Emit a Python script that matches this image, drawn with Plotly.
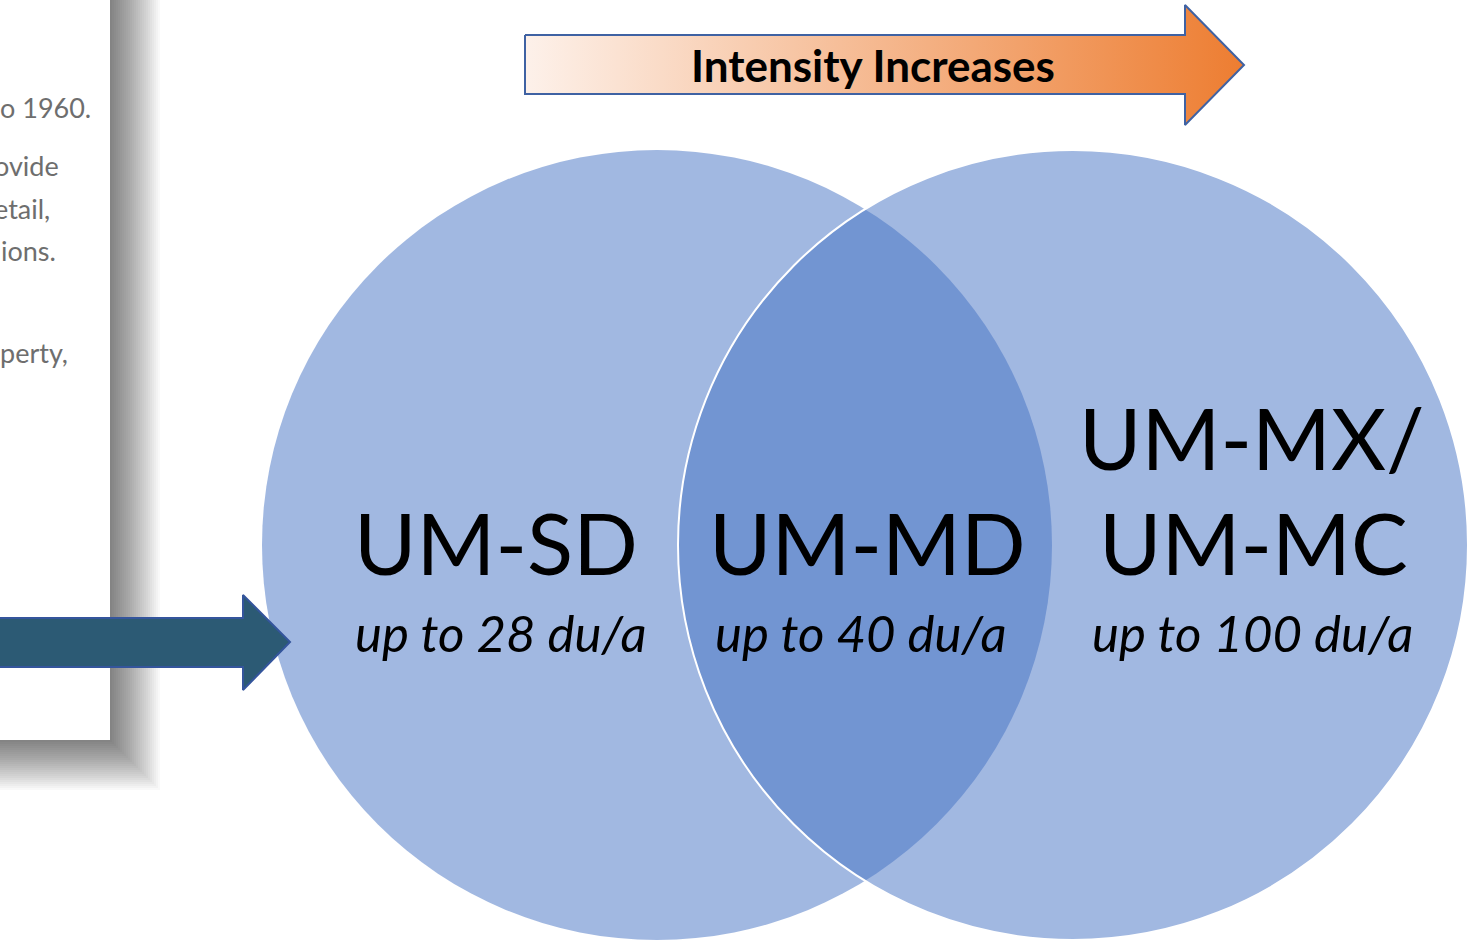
import plotly.graph_objects as go

W, H = 1469, 941

# ---- data (labels) ----
zone_names = ["UM-SD", "UM-MD", "UM-MX/", "UM-MC"]
zone_x = [496, 867, 1252, 1253]
zone_y = [542, 542, 437, 542]
density_labels = ["up to 28 du/a", "up to 40 du/a", "up to 100 du/a"]
density_x = [501, 861, 1252]
density_y = [632, 632, 632]
arrow_title = "Intensity Increases"
page_fragments = ["o 1960.", "ovide", "etail,", "ions.", "perty,"]
page_frag_right = [93, 61, 52, 58, 70]
page_frag_y = [107, 165, 208, 250, 352]

# circles: (cx, cy, r)
circles = [(657, 545, 395), (1073, 545, 395)]

fig = go.Figure()
shapes = []

# page shadow
page_right, page_bottom = 110, 740
n = 26
for i in range(n):
    shapes.append(dict(type="rect", xref="x", yref="y", layer="below",
                       x0=-30, y0=-30, x1=page_right + 2 * i, y1=page_bottom + 2 * i,
                       fillcolor="rgba(0,0,0,0.022)", line=dict(width=0)))
# page
shapes.append(dict(type="rect", xref="x", yref="y", layer="below",
                   x0=-30, y0=-30, x1=page_right, y1=page_bottom,
                   fillcolor="white", line=dict(width=0)))

# circles
cx, cy, r = circles[0]
shapes.append(dict(type="circle", xref="x", yref="y", layer="below",
                   x0=cx - r, y0=cy - r, x1=cx + r, y1=cy + r,
                   fillcolor="rgba(68,114,196,0.5)", line=dict(width=0)))
cx, cy, r = circles[1]
shapes.append(dict(type="circle", xref="x", yref="y", layer="below",
                   x0=cx - r, y0=cy - r, x1=cx + r, y1=cy + r,
                   fillcolor="rgba(68,114,196,0.5)", line=dict(color="white", width=2)))

# top gradient arrow
ax = [525, 1185, 1185, 1244, 1185, 1185, 525, 525]
ay = [35, 35, 5, 65, 125, 94, 94, 35]
fig.add_trace(go.Scatter(x=ax, y=ay, mode="lines", fill="toself",
                         fillgradient=dict(type="horizontal",
                                           colorscale=[[0, "#FDF1EA"], [1, "#ED7D31"]]),
                         line=dict(color="#3F62A3", width=2),
                         hoverinfo="skip", showlegend=False))

# dark arrow
dx = [-5, 243, 243, 290, 243, 243, -5, -5]
dy = [618, 618, 595, 642, 690, 667, 667, 618]
fig.add_trace(go.Scatter(x=dx, y=dy, mode="lines", fill="toself",
                         fillcolor="#2C5A74",
                         line=dict(color="#34559C", width=2),
                         hoverinfo="skip", showlegend=False))

annotations = []
font_main = "Lato, 'Open Sans', sans-serif"
for t, x, y in zip(zone_names, zone_x, zone_y):
    annotations.append(dict(text=t, x=x, y=y, xref="x", yref="y", showarrow=False,
                            xanchor="center", yanchor="middle",
                            font=dict(family=font_main, size=85, color="black")))
for t, x, y in zip(density_labels, density_x, density_y):
    annotations.append(dict(text="<i>" + t + "</i>", x=x, y=y, xref="x", yref="y",
                            showarrow=False, xanchor="center", yanchor="middle",
                            font=dict(family=font_main, size=51, color="black")))
annotations.append(dict(text="<b>" + arrow_title + "</b>", x=873, y=65, xref="x", yref="y",
                        showarrow=False, xanchor="center", yanchor="middle",
                        font=dict(family=font_main, size=44, color="black")))
for t, x, y in zip(page_fragments, page_frag_right, page_frag_y):
    annotations.append(dict(text=t, x=x, y=y, xref="x", yref="y", showarrow=False,
                            xanchor="right", yanchor="middle",
                            font=dict(family=font_main, size=27, color="#6E6E6E")))

fig.update_layout(
    width=W, height=H,
    margin=dict(l=0, r=0, t=0, b=0),
    paper_bgcolor="white", plot_bgcolor="white",
    xaxis=dict(range=[0, W], visible=False, fixedrange=True),
    yaxis=dict(range=[H, 0], visible=False, fixedrange=True),
    shapes=shapes, annotations=annotations,
    showlegend=False, hovermode=False,
)

fig.write_html("out.html", config={"displayModeBar": False},
               post_script="document.body.style.margin='0';document.body.style.overflow='hidden';")
